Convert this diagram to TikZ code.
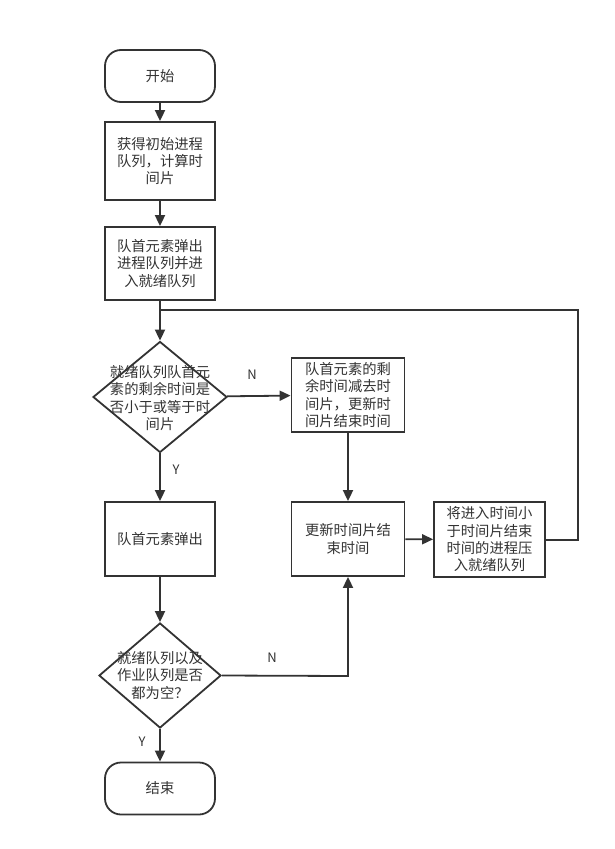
\documentclass[tikz,border=0pt]{standalone}
\usepackage{fontspec}
\setmainfont{Noto Sans CJK SC}
\usetikzlibrary{arrows.meta,shapes.geometric}
\definecolor{lc}{HTML}{333333}
\begin{document}
\begin{tikzpicture}[x=1pt,y=-1pt,
  every node/.style={font=\fontsize{14.3pt}{17.3pt}\selectfont, text=lc, align=center},
  term/.style={draw=lc, line width=1.8pt, rounded corners=16pt, minimum width=110pt, minimum height=52pt},
  proc/.style={draw=lc, line width=1.8pt, minimum width=110pt, inner sep=1pt},
  dec/.style={draw=lc, line width=1.8pt, diamond, aspect=1.2, inner sep=0pt},
  conn/.style={draw=lc, line width=1.8pt, -{Triangle[length=11pt,width=10pt]}},
  line/.style={draw=lc, line width=1.8pt},
  lab/.style={font=\fontsize{13pt}{14pt}\selectfont}]
\useasboundingbox (0,0) rectangle (614,849);
\node[term] (start) at (160,76) {开始};
\node[proc, minimum height=78pt] (b1) at (160,161) {获得初始进程\\队列，计算时\\间片};
\node[proc, minimum height=73pt] (b2) at (160,263.5) {队首元素弹出\\进程队列并进\\入就绪队列};
\node[dec, minimum width=134pt, minimum height=111pt] (d1) at (160,397) {};
\node (t1) at (160,398) {就绪队列队首元\\素的剩余时间是\\否小于或等于时\\间片};
\node[proc, minimum width=113pt, minimum height=74pt] (b3) at (348,395) {队首元素的剩\\余时间减去时\\间片，更新时\\间片结束时间};
\node[proc, minimum height=74pt] (b4) at (160,539) {队首元素弹出};
\node[proc, minimum width=113pt, minimum height=74pt] (b5) at (348,539) {更新时间片结\\束时间};
\node[proc, minimum width=111pt, minimum height=75pt] (b6) at (489.5,539.5) {将进入时间小\\于时间片结束\\时间的进程压\\入就绪队列};
\node[dec, minimum width=122pt, minimum height=105pt] (d2) at (160,675.5) {};
\node (t2) at (160,675.5) {就绪队列以及\\作业队列是否\\都为空？};
\node[term] (end) at (160,788.5) {结束};
\coordinate (loopT) at (160,310);
\coordinate (loopR) at (578,310);
\coordinate (loopB) at (578,540);
\coordinate (nb) at (348,676);
\draw[conn] (start) -- (b1);
\draw[conn] (b1) -- (b2);
\draw[conn] (b2) -- (d1);
\draw[conn] (d1) -- (b3);
\draw[conn] (d1) -- (b4);
\draw[conn] (b3) -- (b5);
\draw[conn] (b5) -- (b6);
\draw[conn] (b4) -- (d2);
\draw[conn] (d2) -- (end);
\draw[conn] (d2.east) -- (nb) -- (b5.south);
\draw[line] (b6.east |- loopB) -- (loopB) -- (loopR) -- (loopT);
\node[lab] (n1) at (252,375) {N};
\node[lab] (y1) at (176,470) {Y};
\node[lab] (n2) at (272,658) {N};
\node[lab] (y2) at (142,742) {Y};
\end{tikzpicture}
\end{document}
